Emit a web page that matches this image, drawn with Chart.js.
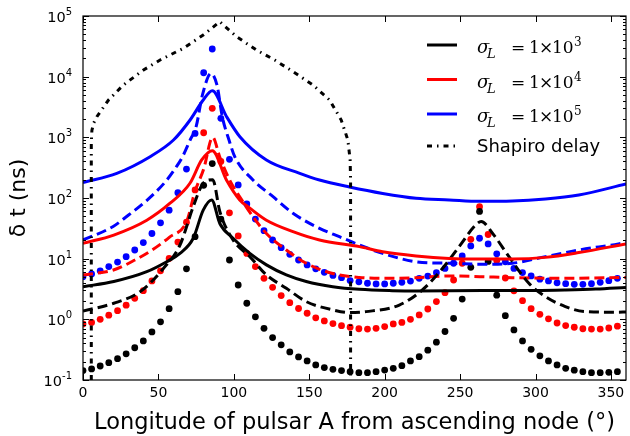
<!DOCTYPE html>
<html>
<head>
<meta charset="utf-8">
<script src="https://cdn.jsdelivr.net/npm/chart.js@4.4.0/dist/chart.umd.min.js"></script>
<style>
  html, body { margin: 0; padding: 0; background: #fff; }
  canvas { display: block; }
</style>
</head>
<body>
<canvas id="chart" width="630" height="436"></canvas>
<script>
// longitude grid of the sampled (dotted) curves, degrees
const sampleX = [0, 5.7, 11.4, 17.1, 22.9, 28.6, 34.3, 40.0, 45.7, 51.4,
  57.1, 62.9, 68.6, 74.3, 80.0, 85.7, 91.4, 97.1, 102.9, 108.6,
  114.3, 120.0, 125.7, 131.4, 137.1, 142.9, 148.6, 154.3, 160.0, 165.7,
  171.4, 177.1, 182.9, 188.6, 194.3, 200.0, 205.7, 211.4, 217.1, 222.9,
  228.6, 234.3, 240.0, 245.7, 251.4, 257.1, 262.9, 268.6, 274.3, 280.0,
  285.7, 291.4, 297.1, 302.9, 308.6, 314.3, 320.0, 325.7, 331.4, 337.1,
  342.9, 348.6, 354.3];

// dotted series (ns)
const blackDots = [0.143, 0.152, 0.17, 0.193, 0.225, 0.27, 0.34, 0.44, 0.62, 0.91,
  1.5, 2.86, 6.8, 23, 162, 370, 45, 9.5, 3.68, 1.84,
  1.1, 0.71, 0.5, 0.38, 0.29, 0.24, 0.206, 0.177, 0.16, 0.15,
  0.143, 0.137, 0.132, 0.132, 0.137, 0.146, 0.156, 0.172, 0.206, 0.242,
  0.31, 0.42, 0.63, 1.04, 2.16, 7.2, 60, 9, 2.5, 1.15,
  0.67, 0.44, 0.32, 0.25, 0.206, 0.177, 0.156, 0.145, 0.137, 0.132,
  0.132, 0.134, 0.137];
const redDots = [0.84, 0.89, 1.0, 1.17, 1.39, 1.71, 2.22, 2.97, 4.3, 6.3,
  10.1, 18.8, 40, 136, 1190, 3010, 400, 57, 23.7, 12.2,
  7.4, 4.75, 3.37, 2.46, 1.88, 1.51, 1.26, 1.06, 0.94, 0.85,
  0.785, 0.74, 0.7, 0.69, 0.71, 0.76, 0.84, 0.89, 1.0, 1.18,
  1.48, 1.96, 2.75, 4.45, 8.4, 20.8, 72, 25, 9.3, 4.8,
  2.95, 2.03, 1.5, 1.21, 1.02, 0.87, 0.79, 0.74, 0.7, 0.69,
  0.69, 0.72, 0.77];
const blueDots = [5.05, 5.6, 6.3, 7.4, 8.8, 10.8, 13.9, 18.4, 26, 39,
  63, 122, 300, 1160, 11600, 28600, 2060, 434, 164, 80,
  45, 28.9, 20.3, 15.2, 11.8, 9.5, 7.9, 6.8, 5.96, 5.3,
  4.86, 4.35, 4.15, 3.93, 3.83, 3.83, 3.93, 4.08, 4.28, 4.74,
  5.17, 5.87, 6.9, 8.4, 11.1, 16.2, 21.7, 17.5, 12, 8.9,
  6.9, 5.9, 5.2, 4.6, 4.3, 4.0, 3.87, 3.78, 3.78, 3.87,
  4.08, 4.34, 4.74];

// solid curves
const blackSolidX = [0, 20.4, 42.3, 55.5, 64.3, 73.1, 79.7, 85.3, 90.7, 99.5, 110.6, 121.6, 134.8, 148, 165.6, 183.3, 205, 221, 265, 300, 320, 340, 360];
const blackSolidY = [3.45, 4.2, 6.1, 8.9, 12.2, 21.7, 63, 93, 38, 21.7, 12.2, 7.9, 5.4, 4.2, 3.45, 3.12, 2.97, 2.93, 3.0, 3.0, 3.05, 3.15, 3.35];
const redSolidX = [0, 20.4, 42.3, 57.7, 70.9, 78.7, 85.7, 95.1, 103.9, 110.6, 121.6, 139.2, 156.8, 183.3, 198.7, 220.8, 242.8, 263, 284.6, 306.6, 328.7, 360];
const redSolidY = [17.9, 24.5, 43, 82, 175, 424, 603, 198, 93, 68, 43, 27.9, 20.3, 15.8, 13, 11.1, 10.1, 9.9, 9.9, 10.5, 12.6, 17.5];
const blueSolidX = [0, 22.4, 44.5, 60, 71, 79.7, 85.7, 95.2, 104, 121.6, 143.7, 156.8, 176.7, 198.7, 220.8, 242.8, 263, 284.6, 306.6, 328.7, 360];
const blueSolidY = [179, 255, 480, 903, 1930, 4120, 5870, 2190, 1025, 424, 255, 198, 152, 119, 99, 93, 88, 89, 96, 112, 170];

// dashed curves
const blackDashX = [0, 20.4, 37.9, 53.3, 64.3, 73.1, 79.7, 86, 90.7, 99.5, 110.6, 121.6, 134.8, 148, 165.6, 176.7, 187.7, 209.7, 225, 238.3, 249.4, 260.4, 264, 271.6, 282.4, 295.6, 306.6, 319.8, 333, 354, 360];
const blackDashY = [1.37, 1.84, 2.86, 6.9, 16.8, 72, 175, 200, 60, 20.3, 10.8, 5.4, 3.25, 1.96, 1.43, 1.29, 1.34, 1.72, 3.05, 6.9, 15.8, 36, 41, 26, 10.8, 3.93, 2.37, 1.62, 1.34, 1.31, 1.32];
const redDashX = [0, 20.2, 34.4, 45.8, 57.2, 68.7, 74.2, 80, 86, 90.6, 97.2, 103.9, 112.7, 121.6, 134.8, 148, 165.6, 183.3, 198.7, 220.8, 242.8, 263, 284.6, 317.7, 360];
const redDashY = [5.4, 6.5, 9.5, 13.9, 22.5, 41, 127, 300, 1000, 480, 198, 105, 49, 26, 13.9, 8.4, 5.7, 4.9, 4.74, 4.86, 5.2, 5.05, 4.86, 4.74, 4.9];
const blueDashX = [0, 20, 30, 42, 55, 62, 66, 71, 75, 79.2, 84.9, 88.8, 92.4, 96.8, 100.6, 112.7, 126, 139.2, 156.8, 170, 183.3, 198.7, 220.8, 242.8, 265, 284.6, 306.6, 328.7, 355, 360];
const blueDashY = [20.3, 34, 52, 90, 190, 330, 480, 900, 1500, 5000, 11300, 7300, 2160, 903, 480, 198, 105, 56, 31.6, 23, 16.8, 12.2, 8.9, 8.4, 8.1, 8.4, 10.8, 13.9, 17.5, 18.5];

// Shapiro delay
const shapiroX = [5.5, 5.5, 5.9, 7, 9.2, 16.9, 26.8, 40.1, 51.1, 66.5, 79.7, 90.7, 101.8, 115, 127.1, 139.2, 152.4, 163.5, 171.2, 175.6, 177.1, 177.4, 177.4];
const shapiroY = [0.1, 800, 1300, 1700, 2190, 4120, 7300, 12900, 18800, 29300, 48600, 80500, 45600, 27500, 18800, 12100, 7300, 4120, 1930, 903, 424, 200, 0.1];

// axes
const xTicks = [0, 50, 100, 150, 200, 250, 300, 350];
const yTicks = [1e-1, 1e0, 1e1, 1e2, 1e3, 1e4, 1e5];
const legendRows = [
  { exp: '3', color: '#000000' },
  { exp: '4', color: '#ff0000' },
  { exp: '5', color: '#0000ff' }
];

const DASH = [10, 5];
const DASH_DOT = [5, 5, 1.5, 5];

function pts(xs, ys) {
  return xs.map((x, i) => ({ x: x, y: ys[i] }));
}

function dots(ys, color) {
  return {
    data: pts(sampleX, ys),
    showLine: false,
    pointRadius: 3.4,
    pointBorderWidth: 0,
    pointBackgroundColor: color,
    clip: 0,
    order: 3
  };
}

function curve(xs, ys, color, dash, order) {
  return {
    data: pts(xs, ys),
    showLine: true,
    borderColor: color,
    borderWidth: 3,
    borderDash: dash,
    pointRadius: 0,
    cubicInterpolationMode: 'monotone',
    clip: 0,
    order: order
  };
}

const datasets = [
  dots(blackDots, '#000000'),
  dots(redDots, '#ff0000'),
  dots(blueDots, '#0000ff'),
  curve(blackDashX, blackDashY, '#000000', DASH, 2),
  curve(redDashX, redDashY, '#ff0000', DASH, 2),
  curve(blueDashX, blueDashY, '#0000ff', DASH, 2),
  curve(blackSolidX, blackSolidY, '#000000', [], 1),
  curve(redSolidX, redSolidY, '#ff0000', [], 1),
  curve(blueSolidX, blueSolidY, '#0000ff', [], 1),
  {
    data: pts(shapiroX, shapiroY),
    showLine: true,
    borderColor: '#000000',
    borderWidth: 3,
    borderDash: DASH_DOT,
    pointRadius: 0,
    tension: 0,
    clip: 0,
    order: 0
  }
];

const SANS = "'DejaVu Sans', sans-serif";
const SERIF = "'DejaVu Serif', 'Liberation Serif', serif";

// frame, inward ticks, y labels, titles and legend
const decorPlugin = {
  id: 'decor',
  afterDraw(chart) {
    const ctx = chart.ctx;
    const a = chart.chartArea;
    const x = chart.scales.x;
    const y = chart.scales.y;
    ctx.save();
    ctx.setLineDash([]);
    ctx.strokeStyle = '#000';
    ctx.lineWidth = 1.2;
    ctx.strokeRect(a.left, a.top, a.right - a.left, a.bottom - a.top);

    ctx.lineWidth = 1;
    ctx.beginPath();
    xTicks.forEach(v => {
      const px = Math.round(x.getPixelForValue(v)) + 0.5;
      ctx.moveTo(px, a.bottom); ctx.lineTo(px, a.bottom - 6);
      ctx.moveTo(px, a.top); ctx.lineTo(px, a.top + 6);
    });
    yTicks.forEach((v, i) => {
      const py = Math.round(y.getPixelForValue(v)) + 0.5;
      ctx.moveTo(a.left, py); ctx.lineTo(a.left + 6, py);
      ctx.moveTo(a.right, py); ctx.lineTo(a.right - 6, py);
      if (i < yTicks.length - 1) {
        for (let m = 2; m <= 9; m++) {
          const pm = Math.round(y.getPixelForValue(v * m)) + 0.5;
          ctx.moveTo(a.left, pm); ctx.lineTo(a.left + 3, pm);
          ctx.moveTo(a.right, pm); ctx.lineTo(a.right - 3, pm);
        }
      }
    });
    ctx.stroke();

    // y tick labels: 10 with raised exponent
    ctx.fillStyle = '#000';
    ctx.textBaseline = 'alphabetic';
    yTicks.forEach(v => {
      const py = y.getPixelForValue(v);
      const exp = String(Math.round(Math.log10(v)));
      ctx.font = '10px ' + SANS;
      const ew = ctx.measureText(exp).width;
      ctx.textAlign = 'left';
      ctx.fillText(exp, 72 - ew, py - 1);
      ctx.font = '14.5px ' + SANS;
      ctx.textAlign = 'right';
      ctx.fillText('10', 72 - ew, py + 6);
    });

    // axis titles
    ctx.textAlign = 'center';
    ctx.font = '22.5px ' + SANS;
    ctx.fillText('Longitude of pulsar A from ascending node (\u00b0)', (a.left + a.right) / 2, 429);
    ctx.save();
    ctx.translate(25, (a.top + a.bottom) / 2);
    ctx.rotate(-Math.PI / 2);
    ctx.font = '22px ' + SANS;
    ctx.fillText('\u03b4 t (ns)', 0, 0);
    ctx.restore();

    // legend
    const rowY = [45, 79.5, 114, 146];
    const lx0 = 427, lx1 = 457, tx = 477;
    ctx.lineWidth = 3;
    legendRows.forEach((r, i) => {
      const ly = rowY[i];
      ctx.strokeStyle = r.color;
      ctx.setLineDash([]);
      ctx.beginPath();
      ctx.moveTo(lx0, ly); ctx.lineTo(lx1, ly);
      ctx.stroke();
      const b = ly + 8;
      ctx.textAlign = 'left';
      ctx.fillStyle = '#000';
      ctx.font = 'italic 18px ' + SERIF;
      ctx.fillText('\u03c3', tx, b);
      ctx.font = 'italic 13px ' + SERIF;
      ctx.fillText('L', tx + 10, b + 5);
      ctx.font = '17px ' + SERIF;
      ctx.fillText('=', tx + 34, b);
      ctx.fillText('1', tx + 52, b);
      ctx.fillText('\u00d7', tx + 62, b);
      ctx.fillText('10', tx + 75, b);
      ctx.font = '12px ' + SERIF;
      ctx.fillText(r.exp, tx + 97, b - 7);
    });
    ctx.strokeStyle = '#000';
    ctx.setLineDash(DASH_DOT);
    ctx.beginPath();
    ctx.moveTo(lx0, rowY[3]); ctx.lineTo(lx1, rowY[3]);
    ctx.stroke();
    ctx.setLineDash([]);
    ctx.font = '18px ' + SANS;
    ctx.textAlign = 'left';
    ctx.fillText('Shapiro delay', tx, rowY[3] + 6);
    ctx.restore();
  }
};

const ctx = document.getElementById('chart').getContext('2d');
new Chart(ctx, {
  type: 'scatter',
  data: { datasets: datasets },
  options: {
    responsive: false,
    animation: false,
    events: [],
    layout: { padding: { top: 16, right: 4, left: 0, bottom: 0 } },
    plugins: {
      legend: { display: false },
      tooltip: { enabled: false }
    },
    scales: {
      x: {
        type: 'linear',
        min: 0,
        max: 360,
        afterBuildTicks: s => { s.ticks = xTicks.map(v => ({ value: v })); },
        afterFit: s => { s.height = 56; },
        ticks: {
          color: '#000',
          font: { family: SANS, size: 14 },
          padding: 5,
          maxRotation: 0,
          autoSkip: false
        },
        grid: { display: false, drawTicks: false },
        border: { display: false }
      },
      y: {
        type: 'logarithmic',
        min: 0.1,
        max: 1e5,
        afterBuildTicks: s => { s.ticks = yTicks.map(v => ({ value: v })); },
        afterFit: s => { s.width = 83; },
        ticks: { display: false },
        grid: { display: false, drawTicks: false },
        border: { display: false }
      }
    }
  },
  plugins: [decorPlugin]
});
</script>
</body>
</html>
